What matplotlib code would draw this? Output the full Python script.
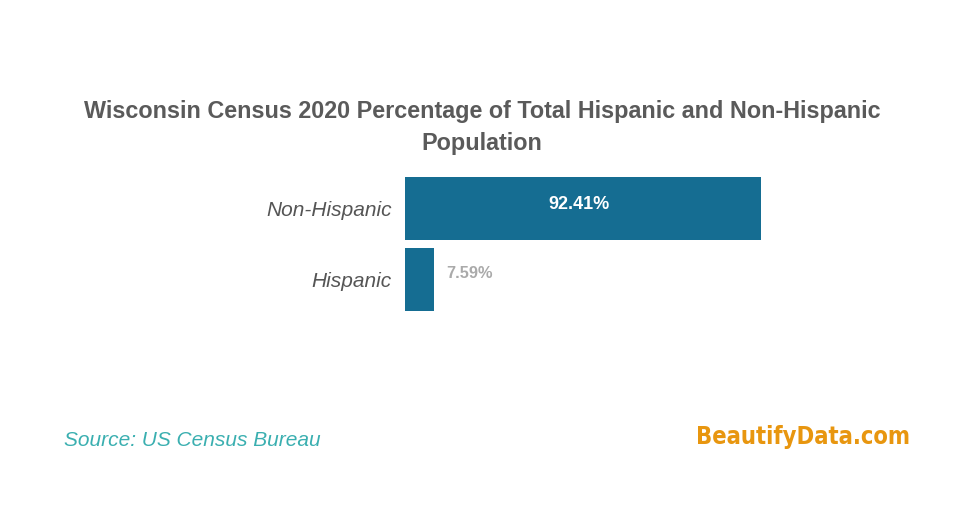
import matplotlib
matplotlib.use("Agg")
import matplotlib.pyplot as plt

categories = ["Non-Hispanic", "Hispanic"]
values = [92.41, 7.59]
value_labels = ["92.41%", "7.59%"]

W, H = 973, 508
fig = plt.figure(figsize=(W / 100, H / 100), dpi=100)
fig.patch.set_facecolor("white")

# axes placement in pixels
x0, x1 = 405, 405 + 385.2
y_top, y_bot = 173, 315
ax = fig.add_axes([x0 / W, 1 - y_bot / H, (x1 - x0) / W, (y_bot - y_top) / H])

bar_color = "#156d92"
pos = list(range(len(categories)))
ax.barh(pos, values, height=0.887, color=bar_color, edgecolor="none")
ax.set_xlim(0, 100)
ax.set_ylim(len(categories) - 0.5, -0.5)
ax.set_yticks(pos)
ax.set_yticklabels(categories, fontstyle="italic", fontsize=15, color="#555555",
                   family="Liberation Sans")
ax.tick_params(axis="y", length=0, pad=9.5)
ax.set_xticks([])
for s in ax.spines.values():
    s.set_visible(False)

for i, (v, lab) in enumerate(zip(values, value_labels)):
    if v > 50:
        ax.text(v / 2 - 1.0, i - 0.055, lab, ha="center", va="center", color="white",
                fontsize=13, fontweight="bold", family="Liberation Sans")
    else:
        ax.text(v + 3.2, i - 0.09, lab, ha="left", va="center", color="#aaaaaa",
                fontsize=11.8, fontweight="bold", family="Liberation Sans")

fig.text(482 / W, 1 - 127.5 / H,
         "Wisconsin Census 2020 Percentage of Total Hispanic and Non-Hispanic\nPopulation",
         ha="center", va="center", fontsize=16.8, fontweight="bold", color="#5a5a5a",
         family="Liberation Sans", linespacing=1.5)

fig.text(64 / W, 1 - 440 / H, "Source: US Census Bureau", ha="left", va="center",
         fontsize=15, fontstyle="italic", color="#3aafb0", family="Liberation Sans")

fig.text(910 / W, 1 - 437 / H, "BeautifyData.com", ha="right", va="center",
         fontsize=17, fontweight="bold", color="#e8960f", family="DejaVu Sans",
         fontstretch="condensed")

fig.savefig("out.png", dpi=100, facecolor="white")
